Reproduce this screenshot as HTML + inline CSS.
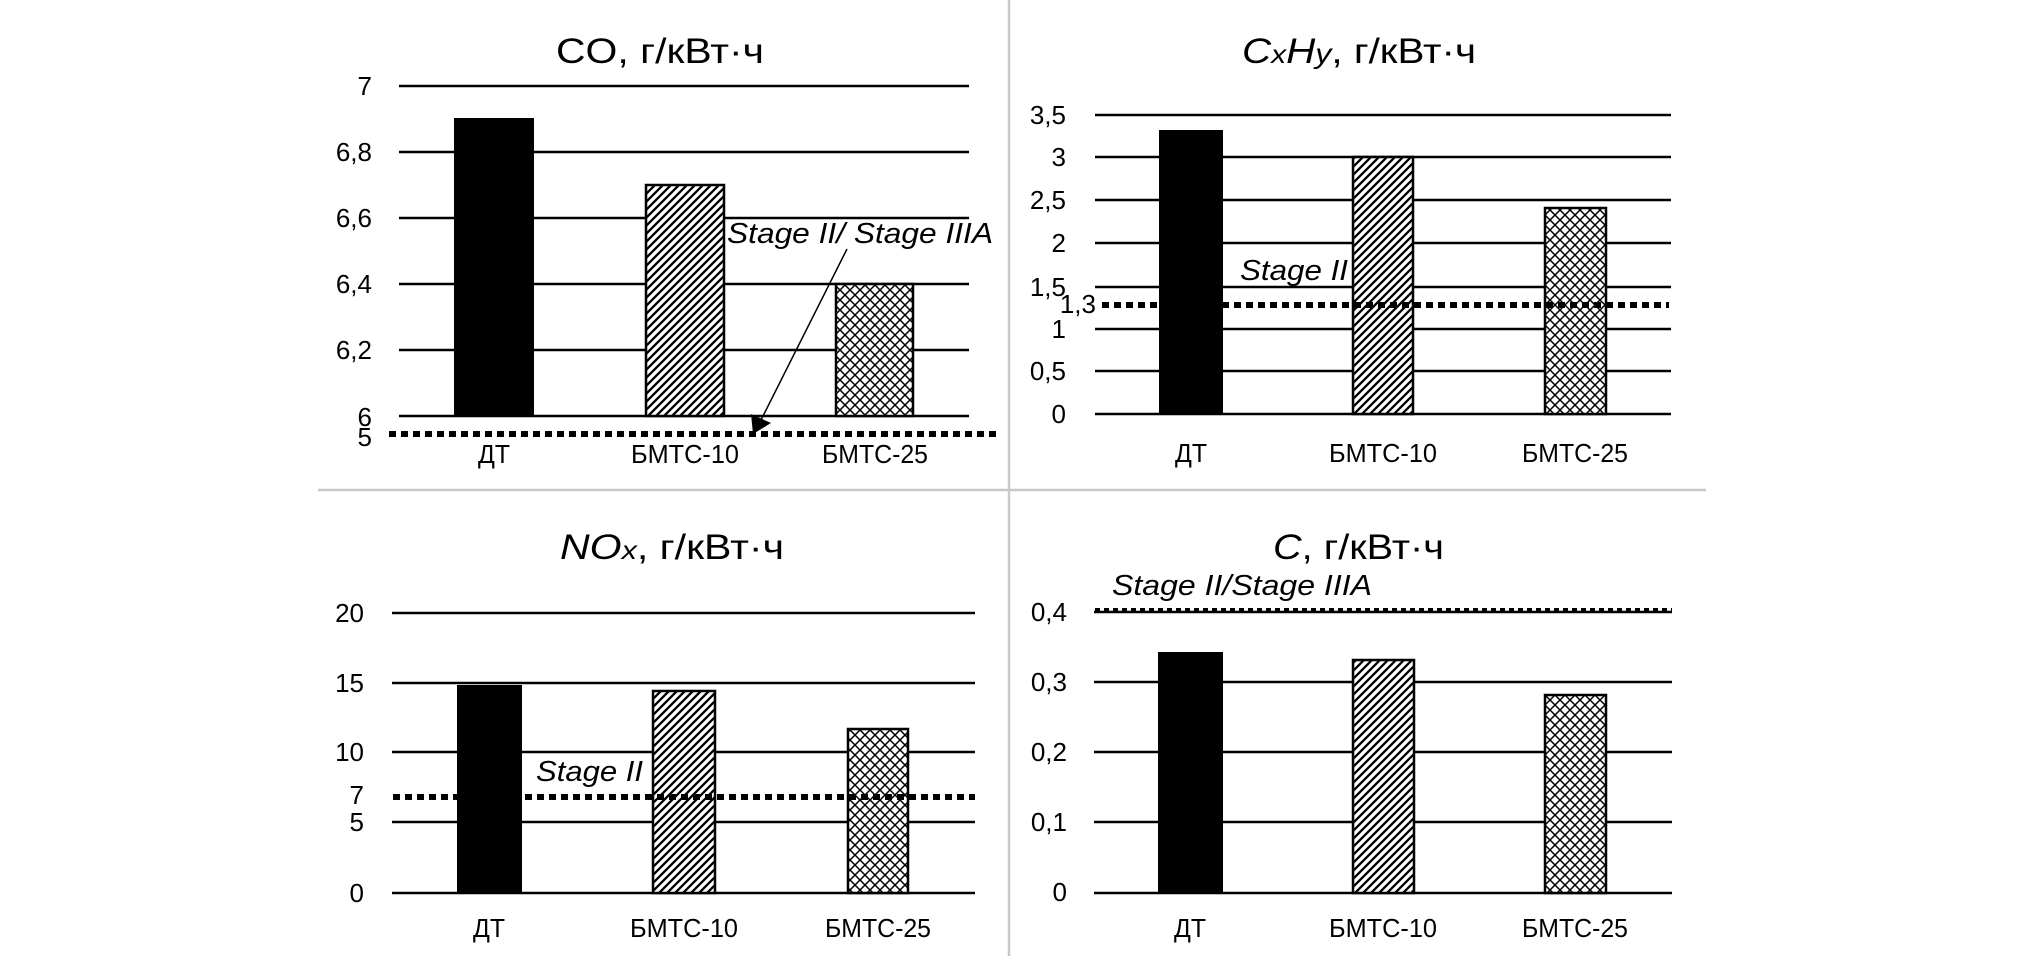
<!DOCTYPE html>
<html><head><meta charset="utf-8">
<style>
html,body{margin:0;padding:0;background:#fff;}
svg{display:block;}
text{font-family:"Liberation Sans",sans-serif;fill:#000;}
.t{font-size:35px;}
.tk{font-size:26px;}
.cat{font-size:26px;}
.st{font-size:29px;font-style:italic;}
</style></head><body>
<svg width="2020" height="956" viewBox="0 0 2020 956" xmlns="http://www.w3.org/2000/svg">
<defs>
<pattern id="hatch" patternUnits="userSpaceOnUse" width="8" height="8">
<path d="M-2,2 L2,-2 M0,8 L8,0 M6,10 L10,6" stroke="#000" stroke-width="2.3"/>
</pattern>
<pattern id="cross" patternUnits="userSpaceOnUse" width="10" height="10">
<path d="M0,10 L10,0 M0,0 L10,10 M-1,1 L1,-1 M9,11 L11,9 M-1,9 L1,11 M9,-1 L11,1" stroke="#000" stroke-width="1.5"/>
</pattern>
</defs>
<rect width="2020" height="956" fill="#fff"/>

<!-- dividers -->
<line x1="1009" y1="0" x2="1009" y2="956" stroke="#c8c8c8" stroke-width="2.5"/>
<line x1="318" y1="490" x2="1706" y2="490" stroke="#c8c8c8" stroke-width="2.5"/>

<!-- ===== CO chart ===== -->
<text class="t" x="556" y="63" textLength="208" lengthAdjust="spacingAndGlyphs">CO, г/кВт·ч</text>
<g stroke="#000" stroke-width="2.5">
<line x1="399" y1="86" x2="969" y2="86"/>
<line x1="399" y1="152" x2="969" y2="152"/>
<line x1="399" y1="218" x2="969" y2="218"/>
<line x1="399" y1="284" x2="969" y2="284"/>
<line x1="399" y1="350" x2="969" y2="350"/>
<line x1="399" y1="416" x2="969" y2="416"/>
</g>
<rect x="455" y="119" width="78" height="297" fill="#000" stroke="#000" stroke-width="2"/>
<rect x="646" y="185" width="78" height="231" fill="#fff"/>
<rect x="646" y="185" width="78" height="231" fill="url(#hatch)" stroke="#000" stroke-width="2.5"/>
<rect x="836" y="284" width="77" height="132" fill="#fff"/>
<rect x="836" y="284" width="77" height="132" fill="url(#cross)" stroke="#000" stroke-width="2.5"/>
<line x1="389" y1="434" x2="999" y2="434" stroke="#000" stroke-width="6" stroke-dasharray="7 5"/>
<text class="st" x="727" y="243" textLength="266" lengthAdjust="spacingAndGlyphs">Stage II/ Stage IIIA</text>
<line x1="847" y1="249" x2="759" y2="424" stroke="#000" stroke-width="1.5"/>
<polygon points="753,434 751,414 771,423" fill="#000"/>
<g text-anchor="end">
<text class="tk" x="372" y="95">7</text>
<text class="tk" x="372" y="161">6,8</text>
<text class="tk" x="372" y="227">6,6</text>
<text class="tk" x="372" y="293">6,4</text>
<text class="tk" x="372" y="359">6,2</text>
<text class="tk" x="372" y="426">6</text>
<text class="tk" x="372" y="446">5</text>
</g>
<g text-anchor="middle">
<text class="cat" x="494" y="463" textLength="32" lengthAdjust="spacingAndGlyphs">ДТ</text>
<text class="cat" x="685" y="463" textLength="108" lengthAdjust="spacingAndGlyphs">БМТС-10</text>
<text class="cat" x="875" y="463" textLength="106" lengthAdjust="spacingAndGlyphs">БМТС-25</text>
</g>

<!-- ===== CxHy chart ===== -->
<text class="t" x="1242" y="63" textLength="234" lengthAdjust="spacingAndGlyphs"><tspan font-style="italic">C</tspan><tspan font-style="italic" font-size="26px">x</tspan><tspan font-style="italic">H</tspan><tspan font-style="italic" font-size="28px">y</tspan>, г/кВт·ч</text>
<g stroke="#000" stroke-width="2.5">
<line x1="1095" y1="115" x2="1671" y2="115"/>
<line x1="1095" y1="157" x2="1671" y2="157"/>
<line x1="1095" y1="200" x2="1671" y2="200"/>
<line x1="1095" y1="243" x2="1671" y2="243"/>
<line x1="1095" y1="287" x2="1671" y2="287"/>
<line x1="1095" y1="329" x2="1671" y2="329"/>
<line x1="1095" y1="371" x2="1671" y2="371"/>
<line x1="1095" y1="414" x2="1671" y2="414"/>
</g>
<rect x="1160" y="131" width="62" height="283" fill="#000" stroke="#000" stroke-width="2"/>
<rect x="1353" y="157" width="60" height="257" fill="#fff"/>
<rect x="1353" y="157" width="60" height="257" fill="url(#hatch)" stroke="#000" stroke-width="2.5"/>
<rect x="1545" y="208" width="61" height="206" fill="#fff"/>
<rect x="1545" y="208" width="61" height="206" fill="url(#cross)" stroke="#000" stroke-width="2.5"/>
<line x1="1102" y1="305" x2="1669" y2="305" stroke="#000" stroke-width="6" stroke-dasharray="7 5"/>
<text class="st" x="1240" y="280" textLength="108" lengthAdjust="spacingAndGlyphs">Stage II</text>
<g text-anchor="end">
<text class="tk" x="1066" y="124">3,5</text>
<text class="tk" x="1066" y="166">3</text>
<text class="tk" x="1066" y="209">2,5</text>
<text class="tk" x="1066" y="252">2</text>
<text class="tk" x="1066" y="296">1,5</text>
<text class="tk" x="1066" y="338">1</text>
<text class="tk" x="1066" y="380">0,5</text>
<text class="tk" x="1066" y="423">0</text>
<text class="tk" x="1096" y="313">1,3</text>
</g>
<g text-anchor="middle">
<text class="cat" x="1191" y="462" textLength="32" lengthAdjust="spacingAndGlyphs">ДТ</text>
<text class="cat" x="1383" y="462" textLength="108" lengthAdjust="spacingAndGlyphs">БМТС-10</text>
<text class="cat" x="1575" y="462" textLength="106" lengthAdjust="spacingAndGlyphs">БМТС-25</text>
</g>

<!-- ===== NOx chart ===== -->
<text class="t" x="560" y="559" textLength="224" lengthAdjust="spacingAndGlyphs"><tspan font-style="italic">NO</tspan><tspan font-style="italic" font-size="26px">x</tspan>, г/кВт·ч</text>
<g stroke="#000" stroke-width="2.5">
<line x1="392" y1="613" x2="975" y2="613"/>
<line x1="392" y1="683" x2="975" y2="683"/>
<line x1="392" y1="752" x2="975" y2="752"/>
<line x1="392" y1="822" x2="975" y2="822"/>
<line x1="392" y1="893" x2="975" y2="893"/>
</g>
<rect x="458" y="686" width="63" height="207" fill="#000" stroke="#000" stroke-width="2"/>
<rect x="653" y="691" width="62" height="202" fill="#fff"/>
<rect x="653" y="691" width="62" height="202" fill="url(#hatch)" stroke="#000" stroke-width="2.5"/>
<rect x="848" y="729" width="60" height="164" fill="#fff"/>
<rect x="848" y="729" width="60" height="164" fill="url(#cross)" stroke="#000" stroke-width="2.5"/>
<line x1="393" y1="797" x2="975" y2="797" stroke="#000" stroke-width="6" stroke-dasharray="7 5"/>
<text class="st" x="536" y="781" textLength="107" lengthAdjust="spacingAndGlyphs">Stage II</text>
<g text-anchor="end">
<text class="tk" x="364" y="622">20</text>
<text class="tk" x="364" y="692">15</text>
<text class="tk" x="364" y="761">10</text>
<text class="tk" x="364" y="804">7</text>
<text class="tk" x="364" y="831">5</text>
<text class="tk" x="364" y="902">0</text>
</g>
<g text-anchor="middle">
<text class="cat" x="489" y="937" textLength="32" lengthAdjust="spacingAndGlyphs">ДТ</text>
<text class="cat" x="684" y="937" textLength="108" lengthAdjust="spacingAndGlyphs">БМТС-10</text>
<text class="cat" x="878" y="937" textLength="106" lengthAdjust="spacingAndGlyphs">БМТС-25</text>
</g>

<!-- ===== C chart ===== -->
<text class="t" x="1273" y="559" textLength="171" lengthAdjust="spacingAndGlyphs"><tspan font-style="italic">C</tspan>, г/кВт·ч</text>
<g stroke="#000" stroke-width="2.5">
<line x1="1094" y1="612" x2="1672" y2="612"/>
<line x1="1094" y1="682" x2="1672" y2="682"/>
<line x1="1094" y1="752" x2="1672" y2="752"/>
<line x1="1094" y1="822" x2="1672" y2="822"/>
<line x1="1094" y1="893" x2="1672" y2="893"/>
</g>
<line x1="1095" y1="610" x2="1672" y2="610" stroke="#000" stroke-width="4" stroke-dasharray="5 4"/>
<rect x="1159" y="653" width="63" height="240" fill="#000" stroke="#000" stroke-width="2"/>
<rect x="1353" y="660" width="61" height="233" fill="#fff"/>
<rect x="1353" y="660" width="61" height="233" fill="url(#hatch)" stroke="#000" stroke-width="2.5"/>
<rect x="1545" y="695" width="61" height="198" fill="#fff"/>
<rect x="1545" y="695" width="61" height="198" fill="url(#cross)" stroke="#000" stroke-width="2.5"/>
<text class="st" x="1112" y="595" textLength="260" lengthAdjust="spacingAndGlyphs">Stage II/Stage IIIA</text>
<g text-anchor="end">
<text class="tk" x="1067" y="621">0,4</text>
<text class="tk" x="1067" y="691">0,3</text>
<text class="tk" x="1067" y="761">0,2</text>
<text class="tk" x="1067" y="831">0,1</text>
<text class="tk" x="1067" y="901">0</text>
</g>
<g text-anchor="middle">
<text class="cat" x="1190" y="937" textLength="32" lengthAdjust="spacingAndGlyphs">ДТ</text>
<text class="cat" x="1383" y="937" textLength="108" lengthAdjust="spacingAndGlyphs">БМТС-10</text>
<text class="cat" x="1575" y="937" textLength="106" lengthAdjust="spacingAndGlyphs">БМТС-25</text>
</g>
</svg>
</body></html>
